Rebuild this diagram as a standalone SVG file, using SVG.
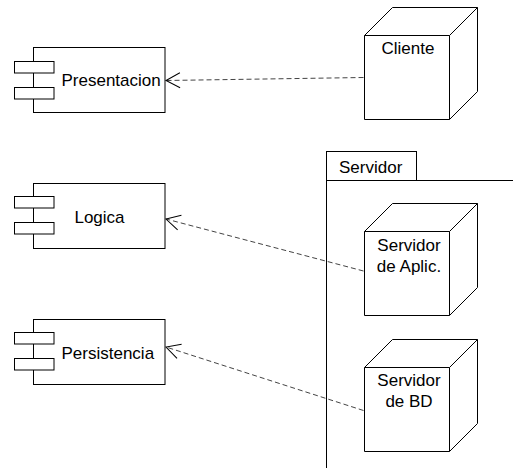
<svg xmlns="http://www.w3.org/2000/svg" width="513" height="474" viewBox="0 0 513 474">
  <style>
    .shape { fill: #fff; stroke: #000; stroke-width: 1; }
    .line { fill: none; stroke: #000; stroke-width: 1; }
    .dep { fill: none; stroke: #444; stroke-width: 1; stroke-dasharray: 5 3; marker-end: url(#open-arrow); }
    .label { font-family: "Liberation Sans", Arial, sans-serif; font-size: 17px; fill: #000; }
    .mid { text-anchor: middle; }
  </style>
  <defs>
    <marker id="open-arrow" markerUnits="userSpaceOnUse" viewBox="-17 -9 19 18" refX="0" refY="0" markerWidth="19" markerHeight="18" orient="auto">
      <path d="M-14,-7.5 L0,0 L-14,7.5" fill="none" stroke="#000" stroke-width="1"/>
    </marker>
  </defs>

  <rect width="513" height="474" fill="#fff"/>

  <!-- components -->
  <g id="presentacion">
    <rect class="shape" x="33.5" y="47.5" width="131.5" height="65"/>
    <rect class="shape" x="14.5" y="61.5" width="39.5" height="11.5"/>
    <rect class="shape" x="14.5" y="87.5" width="39.5" height="11.5"/>
    <text class="label" x="61.5" y="86">Presentacion</text>
  </g>
  <g id="logica">
    <rect class="shape" x="33.5" y="183.5" width="131.5" height="65"/>
    <rect class="shape" x="14.5" y="196.5" width="39.5" height="11.5"/>
    <rect class="shape" x="14.5" y="222.5" width="39.5" height="11.5"/>
    <text class="label mid" x="99.5" y="223">Logica</text>
  </g>
  <g id="persistencia">
    <rect class="shape" x="33.5" y="319.5" width="131.5" height="65"/>
    <rect class="shape" x="14.5" y="332.5" width="39.5" height="11.5"/>
    <rect class="shape" x="14.5" y="358.5" width="39.5" height="11.5"/>
    <text class="label" x="61.5" y="359">Persistencia</text>
  </g>

  <!-- client node -->
  <g id="cliente">
    <path class="shape" d="M364.5,35.5 L392.5,7.5 L477.5,7.5 L477.5,91.5 L449.5,119.5 L364.5,119.5 Z"/>
    <path class="line" d="M364.5,35.5 L449.5,35.5 L477.5,7.5 M449.5,35.5 L449.5,119.5"/>
    <text class="label mid" x="408" y="54">Cliente</text>
  </g>

  <!-- server package -->
  <g id="servidor">
    <rect class="shape" x="326.5" y="151.5" width="90" height="29"/>
    <path class="line" d="M326.5,180.5 L513,180.5 M326.5,180.5 L326.5,468"/>
    <text class="label" x="339" y="173">Servidor</text>
  </g>

  <g id="servidor-aplic">
    <path class="shape" d="M364.5,231.5 L392.5,203.5 L477.5,203.5 L477.5,287.5 L449.5,315.5 L364.5,315.5 Z"/>
    <path class="line" d="M364.5,231.5 L449.5,231.5 L477.5,203.5 M449.5,231.5 L449.5,315.5"/>
    <text class="label mid" x="409" y="251">Servidor</text>
    <text class="label mid" x="409" y="272">de Aplic.</text>
  </g>

  <g id="servidor-bd">
    <path class="shape" d="M364.5,367.5 L392.5,339.5 L477.5,339.5 L477.5,423.5 L449.5,451.5 L364.5,451.5 Z"/>
    <path class="line" d="M364.5,367.5 L449.5,367.5 L477.5,339.5 M449.5,367.5 L449.5,451.5"/>
    <text class="label mid" x="409" y="386">Servidor</text>
    <text class="label mid" x="409" y="407">de BD</text>
  </g>

  <!-- dependencies -->
  <g id="connectors">
    <path class="dep" d="M363.5,77.5 L166,80.5"/>
    <path class="dep" d="M363.5,271 L166,219"/>
    <path class="dep" d="M363.5,410.5 L166,347"/>
  </g>
</svg>
